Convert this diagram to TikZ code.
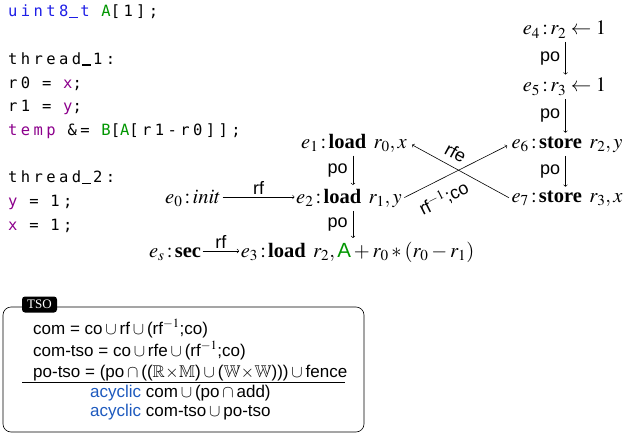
\documentclass[tikz,border=0pt]{standalone}
\usepackage{amssymb}
\usepackage{mathptmx}
\usepackage[no-math]{fontspec}
\setmainfont{Liberation Serif}
\newfontfamily\codef{DejaVu Sans Mono}[LetterSpace=22]
\newfontfamily\sansf{Liberation Sans}
\usetikzlibrary{arrows.meta}
\definecolor{kwblue}{RGB}{30,30,230}
\definecolor{kwgreen}{RGB}{0,150,0}
\definecolor{kwpurple}{RGB}{140,0,140}
\definecolor{acblue}{RGB}{30,90,190}
\newcommand\codefs{\codef\fontsize{15.5}{18}\selectfont\spaceskip=11.8pt\relax}
\newcommand\evfs{\fontsize{20.5}{23}\selectfont}
\newcommand\lblfs{\sansf\fontsize{18}{20}\selectfont}
\newcommand\boxfs{\sansf\fontsize{17}{19}\selectfont}
\newcommand\us{\hspace{0.6pt}\rule[-1.2pt]{9.2pt}{1.4pt}\hspace{2pt}}
\begin{document}
\begin{tikzpicture}[x=1pt,y=-1pt,
  code/.style={anchor=base west, inner sep=0pt, font=\codefs},
  ev/.style={anchor=base, inner sep=1.5pt, font=\evfs},
  arr/.style={-to, line width=0.6pt},
  rarr/.style={to-, line width=0.6pt},
  lbl/.style={font=\lblfs, inner sep=2.5pt},
  polbl/.style={lbl, inner sep=5pt},
  boxtext/.style={anchor=base west, inner sep=0pt, font=\boxfs}]
\useasboundingbox (0,0) rectangle (626,436);
% code
\node[code] (c1) at (8,17) {\textcolor{kwblue}{uint8\us t} \textcolor{kwgreen}{A}[1];};
\node[code] (c2) at (8,64.4) {thread\us 1:};
\node[code] (c3) at (8,88.1) {r0 = \textcolor{kwpurple}{x};};
\node[code] (c4) at (8,111.8) {r1 = \textcolor{kwpurple}{y};};
\node[code] (c5) at (8,135.5) {\textcolor{kwpurple}{temp} \&= \textcolor{kwgreen}{B}[\textcolor{kwgreen}{A}[r1-r0]];};
\node[code] (c6) at (8,182.9) {thread\us 2:};
\node[code] (c7) at (8,206.6) {\textcolor{kwpurple}{y} = 1;};
\node[code] (c8) at (8,230.3) {\textcolor{kwpurple}{x} = 1;};
% events
\node[ev] (e0) at (193,203) {$e_0\,{:}\,init$};
\node[ev] (e1) at (354,148) {$e_1\,{:}\,\textbf{load}\ \,r_0, x$};
\node[ev] (e2) at (349,203) {$e_2\,{:}\,\textbf{load}\ \,r_1, y$};
\node[ev] (es) at (175,257) {$e_s\,{:}\,\textbf{sec}$};
\node[ev] (e3) at (357.5,257) {$e_3\,{:}\,\textbf{load}\ \,r_2, \textcolor{kwgreen}{\mbox{\sansf A}} + r_0 * (r_0 - r_1)$};
\node[ev] (e4) at (564.5,35) {$e_4\,{:}\,r_2 \leftarrow 1$};
\node[ev] (e5) at (564.5,92) {$e_5\,{:}\,r_3 \leftarrow 1$};
\node[ev] (e6) at (567,148) {$e_6\,{:}\,\textbf{store}\ \,r_2, y$};
\node[ev] (e7) at (567,202) {$e_7\,{:}\,\textbf{store}\ \,r_3, x$};
% edges
\draw[arr] ([yshift=6pt]e0.base east) -- ([yshift=6pt]e2.base west) node[midway, above, lbl] {rf};
\draw[arr] ([yshift=6pt]es.base east) -- ([yshift=6pt]e3.base west) node[midway, above, lbl] {rf};
\draw[arr, shorten <=2pt, shorten >=2pt] ([xshift=-1pt]e1.south) -- ([xshift=-1pt]e1.south |- e2.north) node[midway, left, polbl] {po};
\draw[arr, shorten <=2pt, shorten >=2pt] ([xshift=-1pt]e2.south -| e1.south) -- ([xshift=-1pt]e3.north -| e1.south) node[midway, left, polbl] {po};
\draw[arr, shorten <=2pt, shorten >=2pt] ([xshift=-1.5pt]e4.south -| e6.south) -- ([xshift=-1.5pt]e5.north -| e6.south) node[midway, left, polbl] {po};
\draw[arr, shorten <=2pt, shorten >=2pt] ([xshift=-1.5pt]e5.south -| e6.south) -- ([xshift=-1.5pt]e6.north) node[midway, left, polbl] {po};
\draw[arr, shorten <=2pt, shorten >=2pt] ([xshift=-1.5pt]e6.south) -- ([xshift=-1.5pt]e7.north) node[midway, left, polbl] {po};
\draw[rarr, shorten <=4pt, shorten >=1pt] (e1.east) -- (e7.west) node[pos=0.4, sloped, above, lbl, inner sep=7pt] {rfe};
\draw[arr, shorten <=1pt, shorten >=3pt] (e2.east) -- (e6.west) node[pos=0.3, sloped, below, lbl, inner sep=9pt] {rf$^{-1}$;co};
% TSO box
\node[draw, rounded corners=8pt, line width=0.6pt, minimum width=361pt, minimum height=125pt, inner sep=0pt] (tso) at (183.5,369.5) {};
\node[fill=black, text=white, rounded corners=3pt, font=\fontsize{13}{14}\selectfont, inner sep=1pt, minimum width=35pt, minimum height=16pt] (tsolab) at (39.5,304.5) {TSO};
\node[boxtext] (l1) at (33,334) {com = co\,$\cup$\,rf\,$\cup$\,(rf$^{-1}$;co)};
\node[boxtext] (l2) at (33,356) {com-tso = co\,$\cup$\,rfe\,$\cup$\,(rf$^{-1}$;co)};
\node[boxtext] (l3) at (33,377) {po-tso = (po\,$\cap$\,(($\mathbb{R}\!\times\!\mathbb{M}$)\,$\cup$\,($\mathbb{W}\!\times\!\mathbb{W}$)))\,$\cup$\,fence};
\draw[line width=0.8pt] (22,382.5) -- (345,382.5);
\node[boxtext] (l4) at (90,397) {\textcolor{acblue}{acyclic} com\,$\cup$\,(po\,$\cap$\,add)};
\node[boxtext] (l5) at (90,416) {\textcolor{acblue}{acyclic} com-tso\,$\cup$\,po-tso};
\end{tikzpicture}
\end{document}
